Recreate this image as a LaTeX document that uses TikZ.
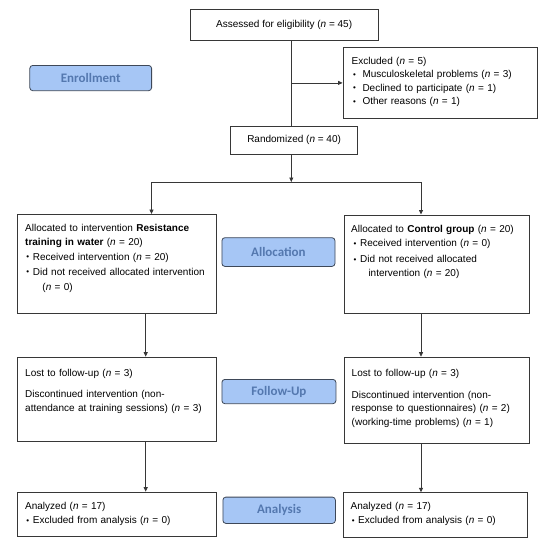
\documentclass[tikz,border=0pt]{standalone}
\usepackage{fontspec}
\setmainfont{Liberation Sans}
\newfontfamily\lblfont{Carlito}
\usetikzlibrary{arrows.meta}
\definecolor{lblfill}{RGB}{166,198,245}
\definecolor{lbltext}{RGB}{84,120,175}
\definecolor{lbldraw}{RGB}{62,72,88}
\definecolor{ln}{RGB}{55,55,55}
\newcommand{\bu}[2]{\hspace*{#1}\makebox[#2][l]{\fontsize{8}{8}\selectfont\raisebox{0.4pt}{•}}}
\newcommand{\nn}{\textit{n}}
\begin{document}
\begin{tikzpicture}[x=1pt,y=-1pt,
  box/.style={draw=ln, line width=0.8pt, inner sep=0pt, anchor=north west, font=\fontsize{10}{13.4}\selectfont},
  txt/.style={inner sep=0pt, anchor=base west, text width=200pt, align=left, font=\fontsize{10}{13.4}\selectfont},
  phase/.style={draw=lbldraw, fill=lblfill, rounded corners=3pt, line width=0.8pt, inner sep=0pt, anchor=north west, text=lbltext, font=\lblfont\bfseries\fontsize{13}{15}\selectfont},
  arr/.style={draw=ln, line width=0.8pt, -{Triangle[length=4.5pt,width=4pt]}},
  con/.style={draw=ln, line width=0.8pt}]
\useasboundingbox (0,0) rectangle (544,550);

% boxes
\node[box, minimum width=188.3pt, minimum height=31pt] (assess) at (189.6,9) {Assessed for eligibility (\nn{} = 45)};
\node[box, minimum width=194.4pt, minimum height=71.6pt] (excl) at (342.6,46.7) {};
\node[box, minimum width=127.4pt, minimum height=27.4pt] (rand) at (230,126.3) {Randomized (\nn{} = 40)};
\node[box, minimum width=199pt, minimum height=99pt] (allocL) at (16.6,214) {};
\node[box, minimum width=185pt, minimum height=98.5pt] (allocR) at (343.5,214.5) {};
\node[box, minimum width=199pt, minimum height=84.3pt] (fuL) at (16.6,356.7) {};
\node[box, minimum width=185pt, minimum height=86pt] (fuR) at (343.5,356.7) {};
\node[box, minimum width=199pt, minimum height=44.6pt] (anL) at (16.6,491.7) {};
\node[box, minimum width=184pt, minimum height=44.7pt] (anR) at (342.5,492.3) {};

% phase labels
\node[phase, minimum width=121.8pt, minimum height=25.3pt] (enroll) at (29.4,65) {Enrollment};
\node[phase, minimum width=113.1pt, minimum height=28.7pt] (allocLab) at (221.5,237.3) {Allocation};
\node[phase, minimum width=114pt, minimum height=24.3pt] (fuLab) at (221.5,379) {Follow-Up};
\node[phase, minimum width=112.5pt, minimum height=26.3pt] (anLab) at (222.5,496.7) {Analysis};

% texts
\node[txt] (exclT) at (351.5,64.2) {Excluded (\nn{} = 5)\\
\bu{1.4pt}{9.4pt}Musculoskeletal problems (\nn{} = 3)\\
\bu{1.4pt}{9.4pt}Declined to participate (\nn{} = 1)\\
\bu{1.4pt}{9.4pt}Other reasons (\nn{} = 1)};

\node[txt] (allocLT) at (25,231.8) {Allocated to intervention \textbf{Resistance}\\
\textbf{training in water} (\nn{} = 20)\\[1.6pt]
\bu{1.2pt}{6.5pt}Received intervention (\nn{} = 20)\\[1.6pt]
\bu{1.2pt}{6.5pt}Did not received allocated intervention\\[1.6pt]
\hspace*{17.3pt}(\nn{} = 0)};

\node[txt] (allocRT) at (351,232.8) {Allocated to \textbf{Control group} (\nn{} = 20)\\[0.6pt]
\bu{2.5pt}{6.5pt}Received intervention (\nn{} = 0)\\[2.3pt]
\bu{2.5pt}{6.5pt}Did not received allocated\\[0.9pt]
\hspace*{17.3pt}intervention (\nn{} = 20)};

\node[txt] (fuLT) at (25,376.2) {Lost to follow-up (\nn{} = 3)\\[8.2pt]
Discontinued intervention (non-\\
attendance at training sessions) (\nn{} = 3)};

\node[txt] (fuRT) at (351.5,376.8) {Lost to follow-up (\nn{} = 3)\\[8.3pt]
Discontinued intervention (non-\\
response to questionnaires) (\nn{} = 2)\\
(working-time problems) (\nn{} = 1)};

\node[txt] (anLT) at (25,509.2) {Analyzed (\nn{} = 17)\\[0.9pt]
\bu{1.2pt}{6.5pt}Excluded from analysis (\nn{} = 0)};

\node[txt] (anRT) at (350.5,509.2) {Analyzed (\nn{} = 17)\\[0.9pt]
\bu{1.2pt}{6.3pt}Excluded from analysis (\nn{} = 0)};

% connectors
\coordinate (sp) at (291.3,0);
\coordinate (hl) at (151.5,182);
\coordinate (hr) at (421,182);
\coordinate (vl) at (145.7,0);
\coordinate (vr) at (421,0);
\draw[con] (sp |- assess.south) -- (sp |- rand.north);
\draw[arr] (sp |- excl.west) -- (excl.west);
\draw[arr] (sp |- rand.south) -- (sp |- hl);
\draw[con] (hl) -- (hr);
\draw[arr] (hl) -- (hl |- allocL.north);
\draw[arr] (hr) -- (hr |- allocR.north);
\draw[arr] (vl |- allocL.south) -- (vl |- fuL.north);
\draw[arr] (vr |- allocR.south) -- (vr |- fuR.north);
\draw[arr] (vl |- fuL.south) -- (vl |- anL.north);
\draw[arr] (vr |- fuR.south) -- (vr |- anR.north);
\end{tikzpicture}
\end{document}
